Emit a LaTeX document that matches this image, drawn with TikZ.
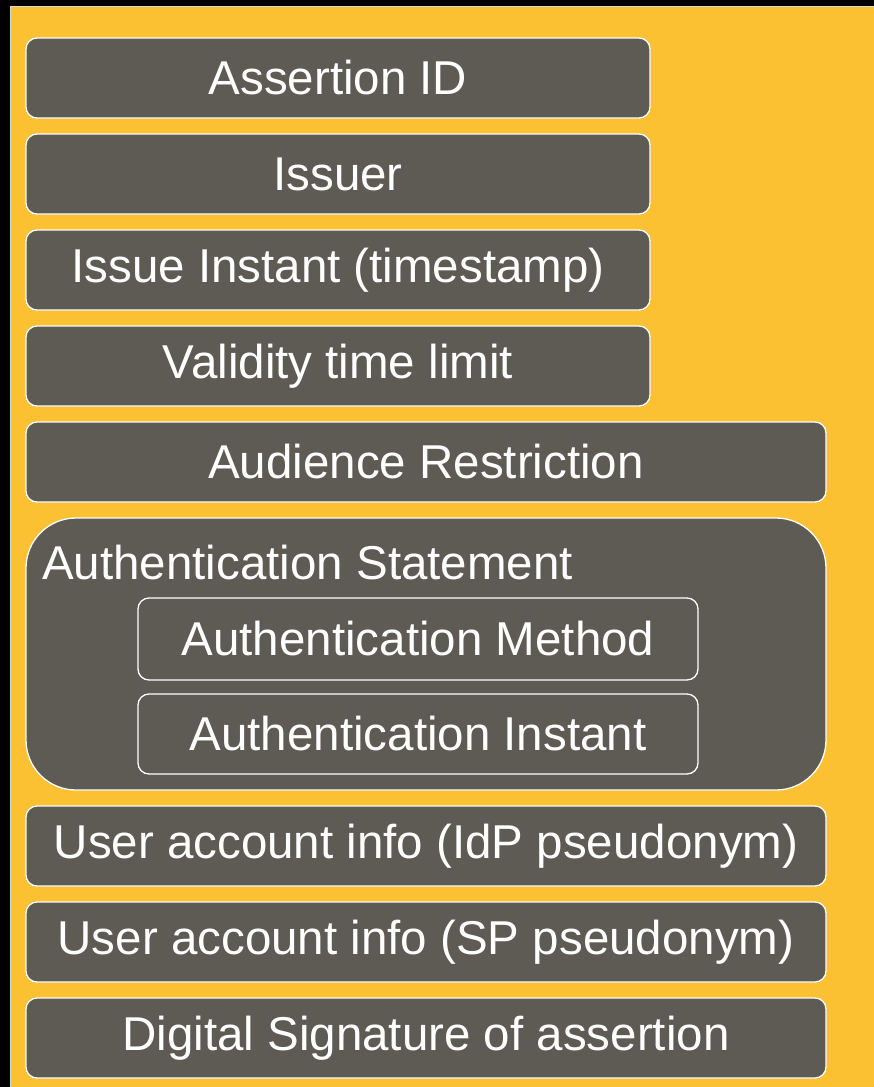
\documentclass[tikz,border=0pt]{standalone}
\usepackage{fontspec}
\setmainfont{Liberation Sans}
\definecolor{bgyellow}{HTML}{FBC132}
\definecolor{boxgrey}{HTML}{5E5A54}
\definecolor{edgegrey}{HTML}{D8D8D8}
\begin{document}
\begin{tikzpicture}[x=1pt,y=-1pt,
  field/.style={draw=white, line width=1.3pt, fill=boxgrey, rounded corners=11pt},
  fieldtext/.style={text=white, font=\fontsize{47.5}{52}\selectfont, inner sep=0pt}]
\useasboundingbox (0,0) rectangle (874,1087);
\fill[black] (0,0) rectangle (874,1087);
\fill[bgyellow] (10,6) rectangle (874,1087);
\draw[edgegrey, line width=1pt] (10,1087) -- (10,6) -- (874,6);
% boxes
\draw[field] (26,38) rectangle (650,118);
\node[fieldtext] (aid) at (338,78) {Assertion ID};
\draw[field] (26,134) rectangle (650,214);
\node[fieldtext] (iss) at (338,174) {Issuer};
\draw[field] (26,230) rectangle (650,310);
\node[fieldtext] (ii) at (338,270) {Issue Instant (timestamp)};
\draw[field] (26,326) rectangle (650,406);
\node[fieldtext] (vtl) at (338,366) {Validity time limit};
\draw[field] (26,422) rectangle (826,502);
\node[fieldtext] (aud) at (426,462) {Audience Restriction};
\draw[field, rounded corners=50pt] (26,518) rectangle (826,790);
\node[fieldtext, anchor=west] (ast) at (42,563) {Authentication Statement};
\draw[field] (138,598) rectangle (698,680);
\node[fieldtext] (am) at (418,639) {Authentication Method};
\draw[field] (138,694) rectangle (698,774);
\node[fieldtext] (ain) at (418,734) {Authentication Instant};
\draw[field] (26,806) rectangle (826,886);
\node[fieldtext] (idp) at (426,846) {User account info (IdP pseudonym)};
\draw[field] (26,902) rectangle (826,982);
\node[fieldtext] (sp) at (426,942) {User account info (SP pseudonym)};
\draw[field] (26,998) rectangle (826,1078);
\node[fieldtext] (sig) at (426,1038) {Digital Signature of assertion};
\end{tikzpicture}
\end{document}
